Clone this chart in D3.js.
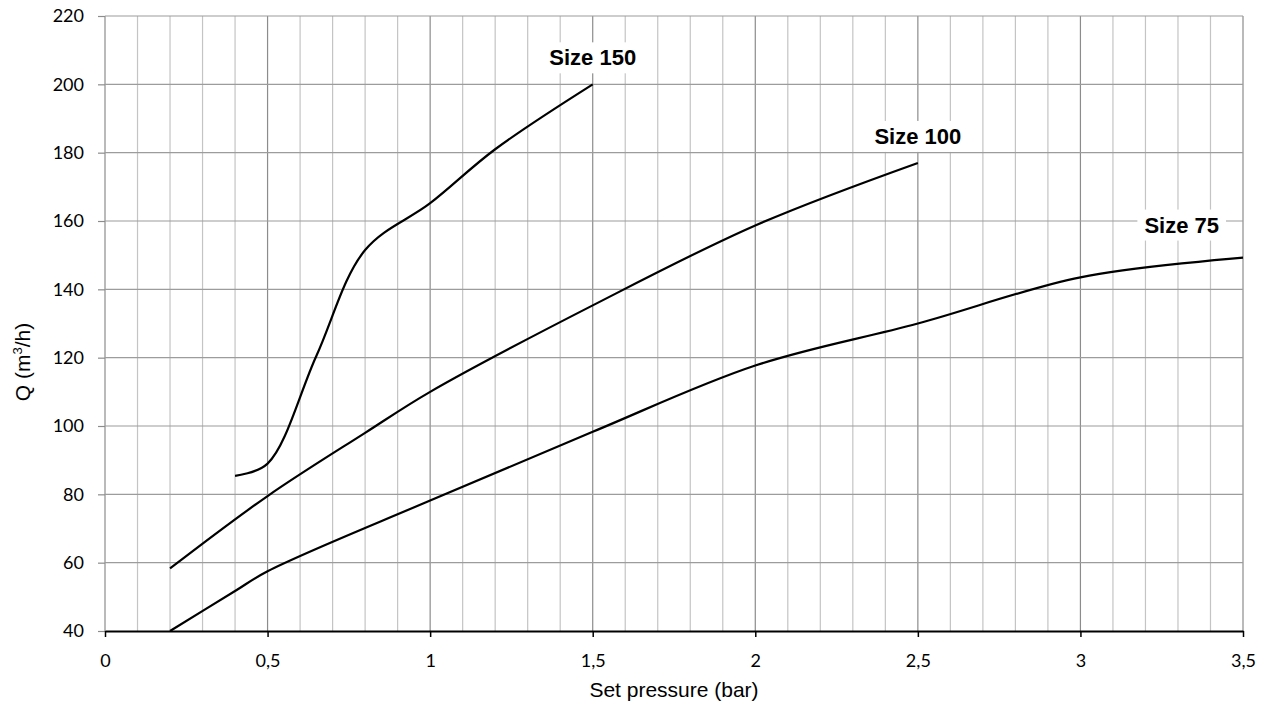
<!DOCTYPE html>
<html>
<head>
<meta charset="utf-8">
<script src="https://cdn.jsdelivr.net/npm/d3@7"></script>
<style>
  html, body { margin: 0; padding: 0; background: #fff; }
  svg { display: block; }
</style>
</head>
<body>
<svg id="chart" width="1271" height="705"></svg>
<script>
// ---- Data ----
const xTickValues = [0, 0.5, 1, 1.5, 2, 2.5, 3, 3.5];
const yTickValues = [40, 60, 80, 100, 120, 140, 160, 180, 200, 220];
const seriesNames = ["Size 150", "Size 100", "Size 75"];

const pressure150 = [0.4, 0.5, 0.65, 0.8, 1.0, 1.2, 1.5];
const flow150     = [85.4, 89, 120.5, 151.5, 165.2, 181, 200];

const pressure100 = [0.2, 0.5, 0.8, 1.0, 1.5, 2.0, 2.5];
const flow100     = [58.3, 79.5, 98, 110, 135.3, 158.7, 177];

const pressure75 = [0.2, 0.4, 0.5, 1.0, 1.5, 2.0, 2.5, 3.0, 3.5];
const flow75     = [40, 51.7, 57.5, 78.2, 98.3, 117.7, 130, 143.5, 149.3];

const xTitle = "Set pressure (bar)";

// ---- Layout ----
const plotLeft = 105, plotRight = 1243, plotTop = 16, plotBottom = 631;
const svg = d3.select("#chart");

const x = d3.scaleLinear().domain([0, 3.5]).range([plotLeft, plotRight]);
const y = d3.scaleLinear().domain([40, 220]).range([plotBottom, plotTop]);
const fmt = d => String(d).replace(".", ",");

// Vertical gridlines (minor every 0.1, major every 0.5)
const minorX = d3.range(0, 36).map(i => i / 10);
svg.append("g").selectAll("line")
  .data(minorX)
  .join("line")
  .attr("x1", d => x(d)).attr("x2", d => x(d))
  .attr("y1", plotTop).attr("y2", plotBottom)
  .attr("stroke", d => (Math.round(d * 10) % 5 === 0) ? "#8c8c8c" : "#c4c4c4")
  .attr("stroke-width", 1.2);

// Horizontal gridlines
svg.append("g").selectAll("line")
  .data(yTickValues.filter(v => v > 40))
  .join("line")
  .attr("x1", plotLeft).attr("x2", plotRight)
  .attr("y1", d => y(d)).attr("y2", d => y(d))
  .attr("stroke", "#9c9c9c")
  .attr("stroke-width", 1.2);

// Y axis
const yAxis = svg.append("g")
  .attr("transform", `translate(${plotLeft},0)`)
  .call(d3.axisLeft(y).tickValues(yTickValues).tickSize(7).tickPadding(14).tickFormat(fmt));
yAxis.select(".domain").remove();
yAxis.selectAll(".tick line").attr("stroke", "#8c8c8c").attr("stroke-width", 1.2);
yAxis.selectAll("text")
  .attr("font-family", "Lato, 'Open Sans', sans-serif")
  .attr("font-size", 18).attr("fill", "#000");

// X axis
const xAxis = svg.append("g")
  .attr("transform", `translate(0,${plotBottom})`)
  .call(d3.axisBottom(x).tickValues(xTickValues).tickSize(6).tickPadding(17).tickSizeOuter(0).tickFormat(fmt));
xAxis.select(".domain").attr("stroke", "#000").attr("stroke-width", 2.2);
xAxis.selectAll(".tick line").attr("stroke", "#000").attr("stroke-width", 1.5);
xAxis.selectAll("text")
  .attr("font-family", "Lato, 'Open Sans', sans-serif")
  .attr("font-size", 18).attr("fill", "#000");

// Axis titles
svg.append("text")
  .attr("x", (plotLeft + plotRight) / 2).attr("y", 697)
  .attr("text-anchor", "middle")
  .attr("font-family", "'Liberation Sans', Arial, sans-serif")
  .attr("font-size", 21).attr("fill", "#000")
  .text(xTitle);

const yTitle = svg.append("text")
  .attr("transform", "translate(30,362) rotate(-90)")
  .attr("text-anchor", "middle")
  .attr("font-family", "'Liberation Sans', Arial, sans-serif")
  .attr("font-size", 21).attr("fill", "#000");
yTitle.append("tspan").text("Q (m");
yTitle.append("tspan").attr("font-size", 13).attr("dy", -8).text("3");
yTitle.append("tspan").attr("dy", 8).text("/h)");

// Series lines
const series = [
  { name: seriesNames[0], xs: pressure150, ys: flow150 },
  { name: seriesNames[1], xs: pressure100, ys: flow100 },
  { name: seriesNames[2], xs: pressure75, ys: flow75 }
];
const line = d3.line()
  .x(d => x(d[0])).y(d => y(d[1]))
  .curve(d3.curveCatmullRom.alpha(0.5));

svg.append("g").selectAll("path")
  .data(series)
  .join("path")
  .attr("d", s => line(s.xs.map((v, i) => [v, s.ys[i]])))
  .attr("fill", "none")
  .attr("stroke", "#000")
  .attr("stroke-width", 2.2)
  .attr("stroke-linejoin", "round");

// End labels (white boxes)
const labelShift = { "Size 150": [0, -19], "Size 100": [0, -19], "Size 75": [0, -25] };
const maxRight = 1226;
series.forEach(s => {
  const lx = x(s.xs[s.xs.length - 1]);
  const ly = y(s.ys[s.ys.length - 1]);
  const g = svg.append("g");
  const rect = g.append("rect").attr("fill", "#fff");
  const t = g.append("text")
    .attr("x", lx + labelShift[s.name][0])
    .attr("y", ly + labelShift[s.name][1])
    .attr("text-anchor", "middle")
    .attr("font-family", "'Liberation Sans', Arial, sans-serif")
    .attr("font-weight", "bold")
    .attr("font-size", 22).attr("fill", "#000")
    .text(s.name);
  let bb = t.node().getBBox();
  const padX = 7;
  if (bb.x + bb.width + padX > maxRight) {
    const shift = bb.x + bb.width + padX - maxRight;
    t.attr("x", +t.attr("x") - shift);
    bb = t.node().getBBox();
  }
  rect.attr("x", bb.x - padX).attr("y", bb.y - 3)
      .attr("width", bb.width + 2 * padX).attr("height", bb.height + 6);
});
</script>
</body>
</html>
